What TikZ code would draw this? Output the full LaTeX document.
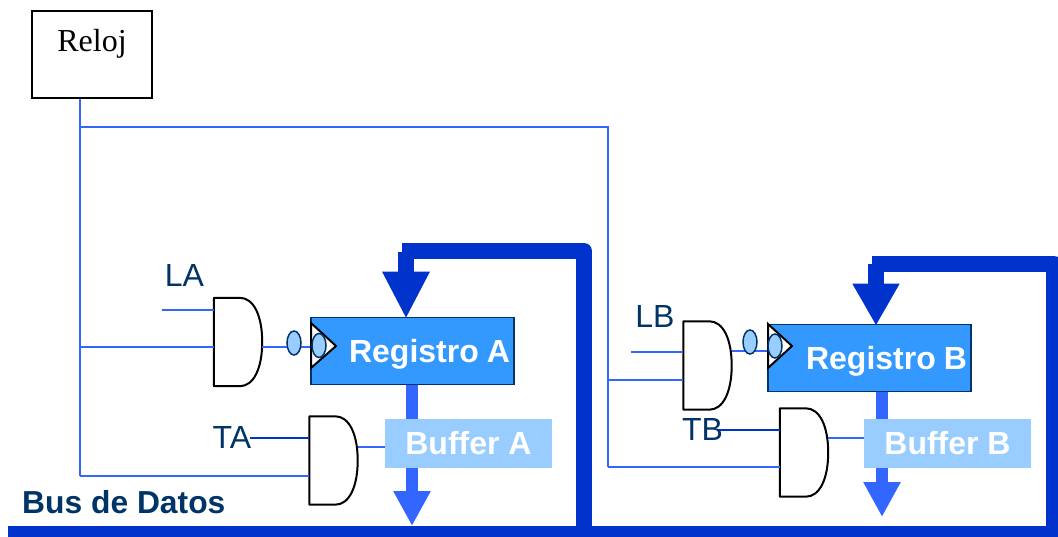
\documentclass[tikz,border=0pt]{standalone}
\usepackage{fontspec}
\setmainfont{Liberation Sans}
\newfontfamily\serifface{Liberation Serif}
\usetikzlibrary{arrows.meta,shapes.geometric}
\definecolor{busblue}{HTML}{0033CC}
\definecolor{midblue}{HTML}{3366FF}
\definecolor{regblue}{HTML}{3399FF}
\definecolor{navy}{HTML}{003366}
\definecolor{palebl}{HTML}{99CCFF}
\tikzset{
  x=1pt,y=-1pt,
  bigfont/.style={font=\fontsize{32}{32}\selectfont},
  wire/.style={draw=midblue,line width=1.5pt},
  ctrlwire/.style={draw=busblue,line width=1.5pt},
  busline/.style={draw=busblue,line width=16pt,line join=round},
  busarrow/.style={draw=busblue,line width=16pt,shorten >=-2pt,-{Triangle[length=#1,width=44pt]}},
  dataarrow/.style={draw=midblue,line width=12pt,-{Triangle[length=35pt,width=35pt]}},
  clockbox/.style={draw=black,line width=2pt,fill=white,minimum width=120pt,minimum height=87pt,inner sep=0pt,
    font=\serifface\fontsize{32}{32}\selectfont,text height=22pt,text depth=27pt},
  regbox/.style={draw=navy,line width=1.5pt,fill=regblue,text=white,font=\fontsize{32}{32}\selectfont\bfseries,
    minimum height=67pt,inner xsep=4pt,inner ysep=0pt,text width=195pt,align=right,text height=23pt,text depth=0pt},
  bufbox/.style={fill=palebl,text=white,font=\fontsize{32}{32}\selectfont\bfseries,minimum width=167pt,minimum height=49pt,
    inner sep=0pt,text height=23pt,text depth=0pt},
  gatebox/.style={minimum width=48pt,minimum height=88pt,inner sep=0pt},
  gateline/.style={draw=black,line width=2pt,fill=white,line join=round},
  clocktri/.style={draw=black,line width=2pt,fill=white,line join=miter},
  bubble/.style={ellipse,draw=navy,line width=1.5pt,fill=palebl,minimum width=14pt,minimum height=24pt,inner sep=0pt},
  sigtext/.style={text=navy,bigfont,anchor=base,inner sep=0pt},
}
\newcommand{\andgate}[3]{%
  \node[gatebox] (#1) at (#2,#3) {};
  \draw[gateline] (#1.north west) -- ([xshift=26pt]#1.north west)
    .. controls ([xshift=40pt]#1.north west) and ([yshift=26pt]#1.east) .. (#1.east)
    .. controls ([yshift=-26pt]#1.east) and ([xshift=40pt]#1.south west) .. ([xshift=26pt]#1.south west)
    -- (#1.south west) -- cycle;}
\begin{document}
\begin{tikzpicture}
\useasboundingbox (0,0) rectangle (1058,537);
\clip (0,0) rectangle (1058,537);
\node[clockbox] (clk) at (92,54.5) {Reloj};

% positions of junctions and free ends
\coordinate (j1) at (80,127);
\coordinate (j2) at (608,127);
\coordinate (clkLA) at (80,347);
\coordinate (clkTA) at (80,476);
\coordinate (clkLB) at (608,380);
\coordinate (clkTB) at (608,467);
\coordinate (inLA) at (162,310);
\coordinate (inTA) at (250,438);
\coordinate (inLB) at (631,352);
\coordinate (inTB) at (718,430);

% data path nodes
\node[regbox] (regA) at (412.5,351) {Registro\hspace{8pt}A};
\node[regbox] (regB) at (869.5,358) {Registro\hspace{8pt}B};

% clock wires
\draw[wire] (clk.south -| j1) -- (clkTA);
\draw[wire] (j1) -- (j2) -- (clkTB);

% gates
\andgate{gLA}{238}{342}
\andgate{gTA}{333.5}{460.5}
\andgate{gLB}{707.5}{365.5}
\andgate{gTB}{804}{452.5}

% gate inputs
\draw[wire] (clkLA) -- (gLA.west |- clkLA);
\draw[wire] (clkTA) -- (gTA.west |- clkTA);
\draw[wire] (clkLB) -- (gLB.west |- clkLB);
\draw[wire] (clkTB) -- (gTB.west |- clkTB);
\draw[wire] (inLA) -- (gLA.west |- inLA);
\draw[ctrlwire] (inTA) -- (gTA.west |- inTA);
\draw[wire] (inLB) -- (gLB.west |- inLB);
\draw[ctrlwire] (inTB) -- (gTB.west |- inTB);

% bus
\coordinate (busL) at (8,534);
\coordinate (busR) at (1062,534);
\coordinate (cA) at (584,251);
\coordinate (cB) at (1054,264);
\coordinate (tA) at (402,251);
\coordinate (tB) at (872,264);
\coordinate (sA) at (406,252);
\coordinate (sB) at (876,264);
\coordinate (dA) at (412,526);
\coordinate (dB) at (882,517);
\draw[dataarrow] (regA.south -| dA) -- (dA);
\draw[dataarrow] (regB.south -| dB) -- (dB);
\draw[busline] (busL) -- (busR);
\draw[busline] (cA |- busL) -- (cA) -- (tA);
\draw[busline] (cB |- busL) -- (cB) -- (tB);
\draw[busarrow=47pt] (sA) -- (regA.north -| sA);
\draw[busarrow=42pt] (sB) -- (regB.north -| sB);

% buffers
\node[bufbox] (bufA) at (468.5,443) {Buffer A};
\node[bufbox] (bufB) at (947.5,443) {Buffer B};
\coordinate (oTA) at (gTA.east |- 0,447);
\coordinate (oTB) at (gTB.east |- 0,438);
\draw[wire] (oTA) -- (bufA.west |- oTA);
\draw[wire] (oTB) -- (bufB.west |- oTB);

% load wires and clock inputs
\coordinate (oLA) at (262,347);
\coordinate (oLB) at (732,351);
\draw[wire] (oLA) -- (regA.west |- oLA);
\draw[wire] (oLB) -- (regB.west |- oLB);
\draw[clocktri] (311,323) -- (336,346) -- (311,368) -- cycle;
\draw[clocktri] (768,324) -- (792,346) -- (768,368) -- cycle;
\node[bubble] (b1) at (294,343) {};
\node[bubble] (b2) at (319,345.5) {};
\node[bubble] (b3) at (750,342) {};
\node[bubble] (b4) at (775,346) {};

% labels
\node[sigtext] (lLA) at (184.5,287) {LA};
\node[sigtext] (lTA) at (232,448) {TA};
\node[sigtext] (lLB) at (655,328) {LB};
\node[sigtext] (lTB) at (702.5,440) {TB};
\node[text=navy,font=\fontsize{31.8}{32}\selectfont\bfseries,anchor=base west,inner sep=0pt] (lBus) at (22,513) {Bus de Datos};
\end{tikzpicture}
\end{document}
